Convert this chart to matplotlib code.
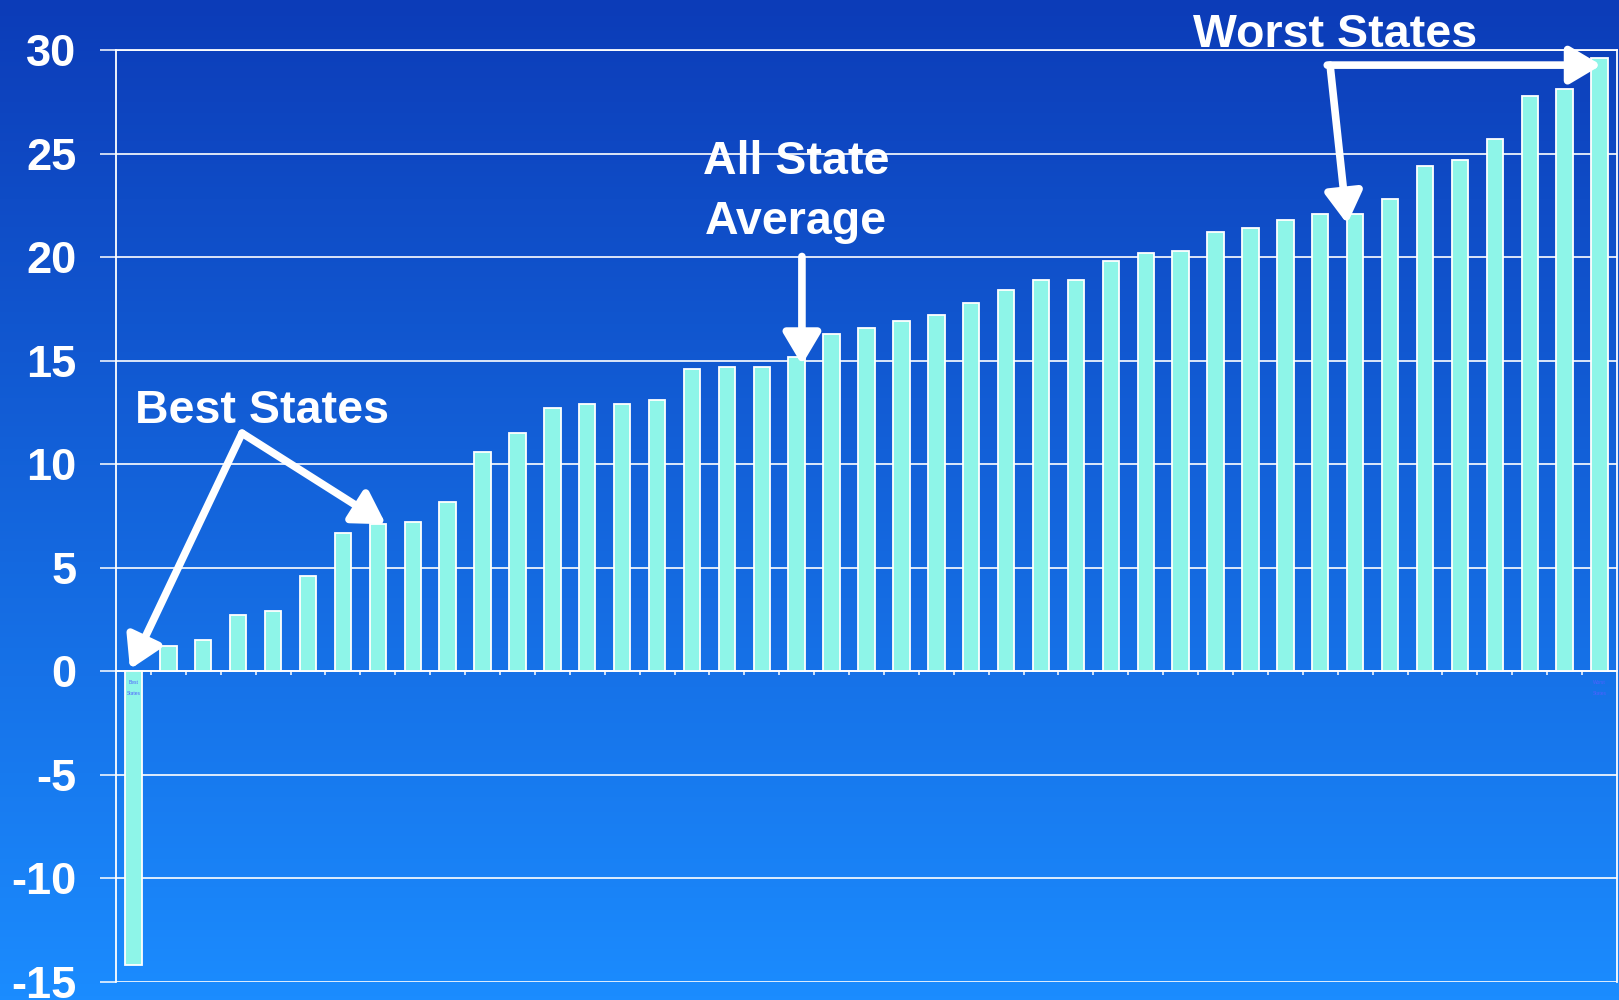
import numpy as np
import matplotlib.pyplot as plt

# bar heights, sorted from best state to worst state
values = [-14.2, 1.2, 1.5, 2.7, 2.9, 4.6, 6.7, 7.1, 7.2, 8.2,
          10.6, 11.5, 12.7, 12.9, 12.9, 13.1, 14.6, 14.7, 14.7, 15.2,
          16.3, 16.6, 16.9, 17.2, 17.8, 18.4, 18.9, 18.9, 19.8, 20.2,
          20.3, 21.2, 21.4, 21.8, 22.1, 22.1, 22.8, 24.4, 24.7, 25.7,
          27.8, 28.1, 29.6]
yticks = [-15, -10, -5, 0, 5, 10, 15, 20, 25, 30]

plt.rcParams['font.family'] = ['Liberation Sans', 'DejaVu Sans']

fig = plt.figure(figsize=(16.19, 10), dpi=100)

# gradient background over the whole figure
bg = fig.add_axes([0, 0, 1, 1], zorder=-10)
top = np.array([12, 60, 184]) / 255
bot = np.array([27, 140, 255]) / 255
t = np.linspace(0, 1, 256)[:, None]
grad = top * (1 - t) + bot * t
bg.imshow(grad[:, None, :], aspect='auto', extent=[0, 1, 0, 1])
bg.axis('off')

ax = fig.add_axes([116 / 1619, 18 / 1000, 1501 / 1619, 932 / 1000])
ax.patch.set_visible(False)

x = np.arange(len(values))
ax.bar(x, values, width=0.47, color='#8EF5E8', edgecolor='white', linewidth=1.3, zorder=3)

ax.set_xlim(-0.5, len(values) - 0.5)
ax.set_ylim(-15, 30)
ax.set_yticks(yticks)
ax.set_yticklabels([str(v) for v in yticks], fontsize=32.5, fontweight='bold', color='white')
ax.tick_params(axis='y', length=11.5, width=1.1, color='white', pad=17)
ax.yaxis.grid(True, color='white', linewidth=1.2)
ax.set_axisbelow(True)

# category boundary ticks hang below the zero line
ax.spines['bottom'].set_position(('data', 0))
ax.set_xticks(x[:-1] + 0.5)
ax.set_xticklabels([])
ax.tick_params(axis='x', length=3, width=1.1, color='white', direction='out')
for s in ax.spines.values():
    s.set_color('white')
    s.set_linewidth(1.3)

# tiny category labels at the ends
ax.text(0, -0.4, 'Best\nStates', fontsize=3.5, color='#5060ff', ha='center', va='top', linespacing=2.5)
ax.text(42, -0.4, 'Worst\nStates', fontsize=3.5, color='#5060ff', ha='center', va='top', linespacing=2.5)

# annotations
big = dict(fontsize=33.5, fontweight='bold', color='white', ha='center', va='baseline', zorder=6)
arr = dict(arrowstyle='-|>,head_length=0.42,head_width=0.25', color='white', lw=5.5,
           mutation_scale=45, shrinkA=0, shrinkB=0)

ax.text(3.68, 11.97, 'Best States', **big)
ax.annotate('', xy=(-0.1, 0.1), xytext=(3.11, 11.5), arrowprops=arr, zorder=5)
ax.annotate('', xy=(7.23, values[7]), xytext=(3.11, 11.5), arrowprops=arr, zorder=5)

ax.text(18.98, 23.99, 'All State', **big)
ax.text(18.98, 21.1, 'Average', **big)
ax.annotate('', xy=(19.15, 14.8), xytext=(19.15, 20.03), arrowprops=arr, zorder=5)

ax.text(34.41, 30.16, 'Worst States', **big)
ax.annotate('', xy=(34.77, 21.6), xytext=(34.28, 29.27), arrowprops=arr, zorder=5)
ax.annotate('', xy=(42.05, 29.27), xytext=(34.2, 29.27), arrowprops=arr, zorder=5)

fig.savefig('out.png', dpi=100)
